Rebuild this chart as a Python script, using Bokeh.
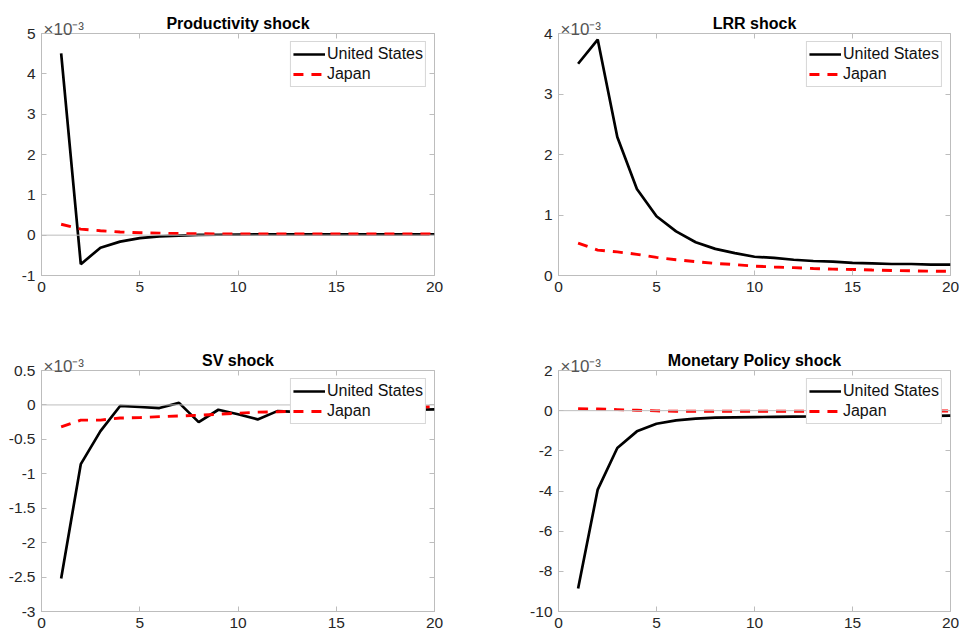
from bokeh.plotting import figure
from bokeh.layouts import column, row
from bokeh.models import (Span, Label, Legend, LegendItem, FixedTicker, Range1d,
                          NumeralTickFormatter, LinearAxis, CustomJSTickFormatter)
from bokeh.embed import file_html
from bokeh.resources import INLINE

# horizon (quarters after the shock)
horizon = list(range(1, 21))

# responses, in units of 1e-3
prod_us = [4.51, -0.72, -0.31, -0.16, -0.075, -0.03, -0.01, 0.005, 0.01, 0.015,
           0.02, 0.02, 0.02, 0.02, 0.02, 0.02, 0.02, 0.02, 0.02, 0.02]
prod_jp = [0.27, 0.15, 0.11, 0.08, 0.06, 0.05, 0.04, 0.035, 0.03, 0.03,
           0.03, 0.03, 0.03, 0.03, 0.03, 0.03, 0.03, 0.03, 0.03, 0.03]
lrr_us = [3.50, 3.90, 2.29, 1.43, 0.98, 0.73, 0.55, 0.44, 0.37, 0.31,
          0.29, 0.26, 0.24, 0.23, 0.21, 0.20, 0.19, 0.19, 0.18, 0.18]
lrr_jp = [0.535, 0.42, 0.39, 0.35, 0.30, 0.26, 0.23, 0.20, 0.18, 0.155,
          0.14, 0.13, 0.115, 0.105, 0.10, 0.09, 0.083, 0.077, 0.072, 0.07]
sv_us = [-2.52, -0.86, -0.38, -0.015, -0.03, -0.045, 0.03, -0.25, -0.07, -0.135,
         -0.21, -0.09, -0.10, -0.08, -0.09, -0.07, -0.08, -0.07, -0.07, -0.065]
sv_jp = [-0.32, -0.22, -0.22, -0.19, -0.185, -0.17, -0.16, -0.15, -0.135, -0.12,
         -0.105, -0.10, -0.09, -0.08, -0.07, -0.06, -0.05, -0.045, -0.035, -0.025]
mp_us = [-8.86, -3.93, -1.86, -1.03, -0.65, -0.48, -0.40, -0.35, -0.33, -0.32,
         -0.31, -0.30, -0.29, -0.28, -0.28, -0.27, -0.27, -0.26, -0.26, -0.25]
mp_jp = [0.10, 0.08, 0.05, 0.02, -0.01, -0.03, -0.03, -0.03, -0.03, -0.03,
         -0.03, -0.03, -0.03, -0.03, -0.03, -0.03, -0.03, -0.03, -0.02, -0.02]

titles = ["Productivity shock", "LRR shock", "SV shock", "Monetary Policy shock"]
y_ranges = [(-1, 5), (0, 4), (-3, 0.5), (-10, 2)]
y_ticks = [[-1, 0, 1, 2, 3, 4, 5], [0, 1, 2, 3, 4],
           [-3, -2.5, -2, -1.5, -1, -0.5, 0, 0.5], [-10, -8, -6, -4, -2, 0, 2]]
x_ticks = [0, 5, 10, 15, 20]
series = [(prod_us, prod_jp), (lrr_us, lrr_jp), (sv_us, sv_jp), (mp_us, mp_jp)]
legend_labels = ["United States", "Japan"]
exponent = "\u00d710\u207b\u00b3"

FONT = "Liberation Sans"
AXC = "#bdbdbd"
TXC = "#262626"

# layout geometry (pixels): figure size and borders around the plot frame;
# "side" is the border panel that reserves room for the exponent label
geo = [
    dict(w=480, h=319, l=41, r=46, t=33, b=44, side="below"),
    dict(w=479, h=319, l=78, r=9, t=33, b=44, side="below"),
    dict(w=480, h=315, l=41, r=46, t=51, b=23, side="right"),
    dict(w=479, h=315, l=78, r=9, t=51, b=23, side="left"),
]


def make_panel(i):
    g = geo[i]
    y0, y1 = y_ranges[i]
    p = figure(width=g["w"], height=g["h"], output_backend="svg", toolbar_location=None,
               x_range=Range1d(0, 20), y_range=Range1d(y0, y1),
               min_border_left=g["l"], min_border_right=g["r"],
               min_border_top=g["t"], min_border_bottom=g["b"],
               title=titles[i])
    p.title.align = "center"
    p.title.text_font = FONT
    p.title.text_font_size = "16px"
    p.title.text_font_style = "bold"
    p.title.text_color = "#000000"
    p.title.standoff = 4
    p.grid.visible = False
    p.outline_line_color = AXC

    for ax, ticks in ((p.xaxis[0], x_ticks), (p.yaxis[0], y_ticks[i])):
        ax.ticker = FixedTicker(ticks=ticks)
        ax.formatter = NumeralTickFormatter(format="0.[0]")
        ax.axis_line_color = AXC
        ax.major_tick_line_color = AXC
        ax.major_tick_in = 5
        ax.major_tick_out = 0
        ax.minor_tick_line_color = None
        ax.major_label_text_font = FONT
        ax.major_label_text_font_size = "15.5px"
        ax.major_label_text_color = TXC
        ax.major_label_standoff = 6

    # box ticks on top and right (MATLAB style), without labels
    empty = CustomJSTickFormatter(code="return ''")
    right = LinearAxis(ticker=FixedTicker(ticks=y_ticks[i]), formatter=empty,
                       axis_line_color=None, major_tick_line_color=AXC,
                       major_tick_in=5, major_tick_out=0, minor_tick_line_color=None,
                       major_label_standoff=0)
    top = LinearAxis(ticker=FixedTicker(ticks=x_ticks), formatter=empty,
                     axis_line_color=None, major_tick_line_color=AXC,
                     major_tick_in=5, major_tick_out=0, minor_tick_line_color=None,
                     major_label_standoff=0)
    p.add_layout(right, "right")
    p.add_layout(top, "above")

    if y0 < 0 < y1:
        p.add_layout(Span(location=0, dimension="width", line_color=AXC, line_width=1))

    us, jp = series[i]
    r_us = p.line(horizon, us, line_color="#000000", line_width=2.7)
    r_jp = p.line(horizon, jp, line_color="#ff0000", line_width=2.9, line_dash="10 8")

    legend = Legend(items=[LegendItem(label=legend_labels[0], renderers=[r_us]),
                           LegendItem(label=legend_labels[1], renderers=[r_jp])],
                    location="top_right", margin=8, padding=2, spacing=0,
                    glyph_width=32, glyph_height=20, label_height=20,
                    label_standoff=2, label_text_font=FONT,
                    label_text_font_size="16px", label_text_color="#111111",
                    border_line_color="#b0b0b0", border_line_width=1,
                    background_fill_color="white", background_fill_alpha=1.0)
    p.add_layout(legend, "center")

    # axis exponent "x10^-3" at the top-left corner of the frame
    p.add_layout(Label(x=0, y=y1, text=exponent, x_offset=2, y_offset=4,
                       text_font=FONT, text_font_size="17px", text_color="#555555",
                       text_baseline="alphabetic"), g["side"])
    return p


panels = [make_panel(i) for i in range(4)]
layout = column(row(panels[0], panels[1]), row(panels[2], panels[3]))

open("out.html", "w").write(file_html(layout, INLINE))
